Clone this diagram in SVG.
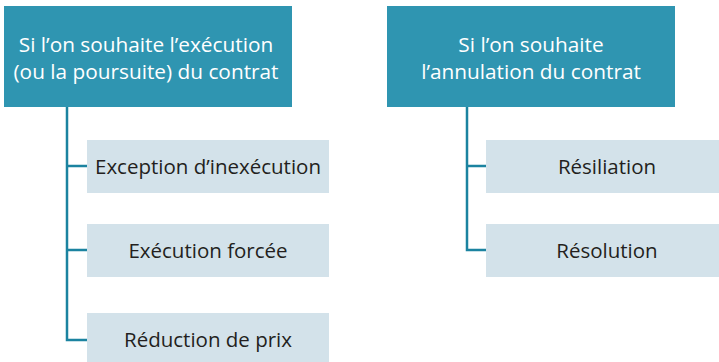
<svg xmlns="http://www.w3.org/2000/svg" width="719" height="362" viewBox="0 0 719 362">
<style>
.hdr{fill:#2f95b1}
.box{fill:#d3e2ea}
.ht{font-family:"Open Sans","Noto Sans",sans-serif;font-size:20.8px;fill:#ffffff;text-anchor:middle}
.bt{font-family:"Open Sans","Noto Sans",sans-serif;font-size:20.5px;fill:#231f20;text-anchor:middle}
.ln{fill:none;stroke:#1b83a0;stroke-width:2.5}
</style>
<rect width="719" height="362" fill="#ffffff"/>
<g id="connectors">
<path class="ln" d="M67,107 V340 H87 M67,166 H87 M67,250 H87"/>
<path class="ln" d="M467,107 V250 H486 M467,166 H486"/>
</g>
<g id="h1"><rect class="hdr" x="4" y="6" width="288" height="101"/>
<text class="ht" x="146" y="52">Si l’on souhaite l’exécution</text>
<text class="ht" x="146" y="79">(ou la poursuite) du contrat</text></g>
<g id="h2"><rect class="hdr" x="387" y="6" width="288" height="101"/>
<text class="ht" x="531" y="52">Si l’on souhaite</text>
<text class="ht" x="531" y="79">l’annulation du contrat</text></g>
<g id="b1"><rect class="box" x="87" y="140" width="242" height="53"/>
<text class="bt" x="208" y="174">Exception d’inexécution</text></g>
<g id="b2"><rect class="box" x="87" y="224" width="242" height="53"/>
<text class="bt" x="208" y="258">Exécution forcée</text></g>
<g id="b3"><rect class="box" x="87" y="313" width="242" height="53"/>
<text class="bt" x="208" y="347">Réduction de prix</text></g>
<g id="b4"><rect class="box" x="486" y="140" width="233" height="53"/>
<text class="bt" x="607" y="174">Résiliation</text></g>
<g id="b5"><rect class="box" x="486" y="224" width="233" height="53"/>
<text class="bt" x="607" y="258">Résolution</text></g>
</svg>
